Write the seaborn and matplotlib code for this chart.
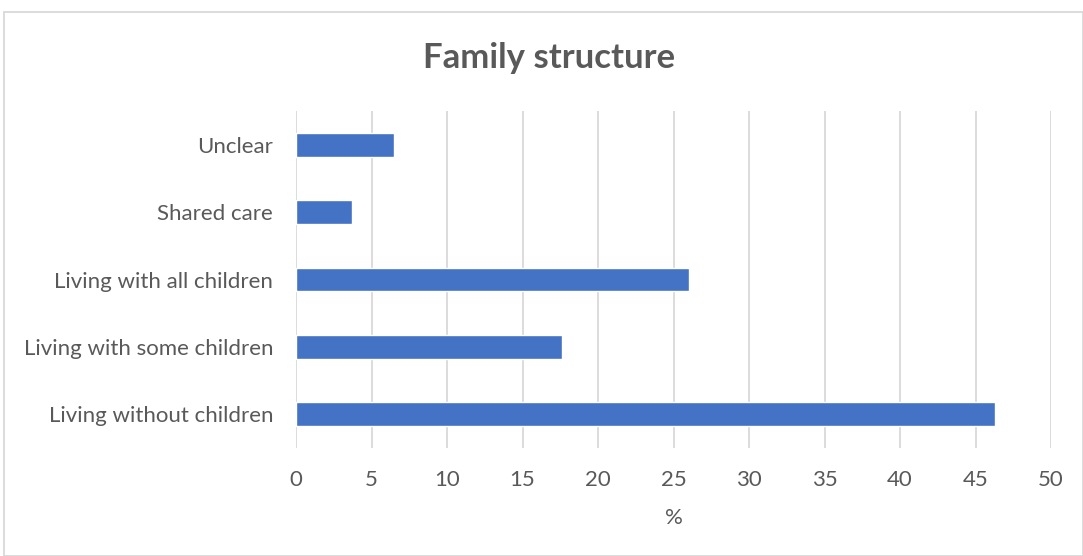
import matplotlib
matplotlib.use("Agg")
import matplotlib.pyplot as plt
import seaborn as sns
import pandas as pd
from matplotlib.patches import Rectangle

categories = ["Unclear", "Shared care", "Living with all children",
              "Living with some children", "Living without children"]
values = [6.5, 3.7, 26.0, 17.6, 46.3]
xticks = [0, 5, 10, 15, 20, 25, 30, 35, 40, 45, 50]

df = pd.DataFrame({"category": categories, "value": values})

sns.set_theme(style="white")
plt.rcParams["font.family"] = ["Lato", "DejaVu Sans"]

W, H = 1083, 556
fig = plt.figure(figsize=(W / 100, H / 100), dpi=100)
ax = fig.add_axes([296 / W, 1 - 448 / H, (1051 - 296) / W, (448 - 111) / H])

sns.barplot(data=df, x="value", y="category", order=categories, color="#4472C4",
            saturation=1, width=0.355, ax=ax, orient="h")

ax.set_xlim(0, 50)
ax.set_xticks(xticks)
ax.set_xticklabels([str(t) for t in xticks])
ax.xaxis.grid(True, color="#d9d9d9", linewidth=1.3)
ax.set_axisbelow(True)
for s in ax.spines.values():
    s.set_visible(False)
ax.tick_params(axis="both", length=0, colors="#595959", labelsize=16)
ax.tick_params(axis="x", pad=16)
ax.tick_params(axis="y", pad=16.5)
ax.set_ylabel("")
ax.set_xlabel("%", color="#595959", fontsize=16, labelpad=13)

fig.text(549 / W, 1 - 58 / H, "Family structure", ha="center", va="center",
         fontsize=25, fontweight="bold", color="#595959")

fig.patches.append(Rectangle((4 / W, 0), 1 - 4 / W, 1 - 12 / H, transform=fig.transFigure,
                             fill=False, edgecolor="#d9d9d9", linewidth=1.3))

fig.savefig("out.png", dpi=100)
